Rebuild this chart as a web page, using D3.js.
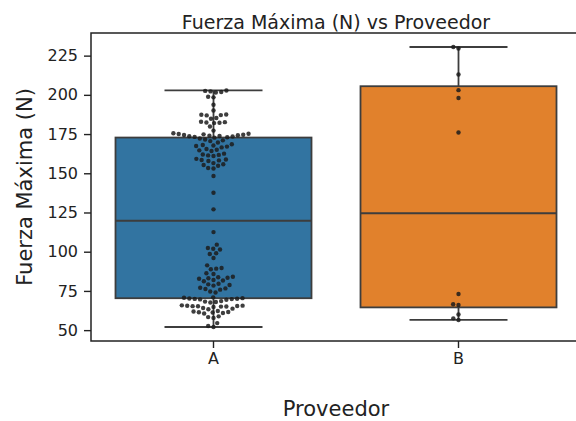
<!DOCTYPE html>
<html>
<head>
<meta charset="utf-8">
<script src="https://cdn.jsdelivr.net/npm/d3@7"></script>
<style>
  html, body { margin: 0; padding: 0; background: #ffffff; }
  svg { display: block; font-family: "DejaVu Sans", sans-serif; }
</style>
</head>
<body>
<svg id="chart" width="576" height="421"></svg>
<script>
// Supplier categories and the measured maximum force (N) per sample
const categories = ["A", "B"];

const fuerzaA = [
  52.0, 52.6, 54.5, 57.8, 58.3, 58.8, 60.6, 60.9, 61.2, 61.4, 61.6, 61.9, 62.2,
  63.3, 63.7, 64.1,
  64.8, 65.0, 65.1, 65.2, 65.3, 65.4, 65.5, 65.6, 65.8,
  67.6, 67.9, 68.2, 68.5,
  69.4, 69.6, 69.8, 69.9, 70.0, 70.2, 70.4, 70.6, 70.9,
  74.0, 74.6, 75.8, 76.2, 76.6, 77.0, 78.4, 78.8, 79.2, 79.6,
  81.2, 81.6, 82.0, 82.8, 83.1, 83.4, 83.7, 84.0, 85.8, 86.3,
  88.8, 89.2, 89.6, 91.3, 96.0, 98.5, 99.0, 101.4, 101.9, 102.4, 104.5, 112.5,
  127.0, 137.6, 148.3, 153.0, 153.4, 154.8, 155.3, 155.8, 156.5,
  157.8, 158.2, 158.5, 158.8, 159.2, 161.0, 161.4, 161.7, 162.0, 162.5,
  164.2, 164.6, 165.0, 165.5, 166.5, 167.0, 167.4, 167.7, 168.0, 168.5, 169.6,
  170.5, 171.0, 171.5, 172.2, 172.7, 173.0,
  173.2, 173.4, 173.6, 173.8, 174.0, 174.2, 174.4, 174.6, 174.8, 175.0, 175.2, 175.5,
  177.2, 179.8, 182.0, 182.2, 182.4, 182.6, 182.8, 184.8, 185.2,
  186.9, 187.1, 187.3, 187.5, 190.0, 193.7, 198.4, 198.8,
  201.5, 201.8, 202.2, 202.5, 202.8
];

const fuerzaB = [56.5, 57.5, 60.0, 66.0, 66.5, 73.0, 176.0, 198.0, 203.0, 213.0, 229.5, 230.5];

const yTicks = [50, 75, 100, 125, 150, 175, 200, 225];

const groups = [
  { key: categories[0], values: fuerzaA, fill: "#3274a1" },
  { key: categories[1], values: fuerzaB, fill: "#e1812c" }
];

const svg = d3.select("#chart");
const plot = { left: 91, right: 581, top: 33, bottom: 341 };
const lineColor = "#3d3d3d";
const inkColor = "#222222";

// y domain: data extent with 5% padding on each side
const all = fuerzaA.concat(fuerzaB);
const [lo, hi] = d3.extent(all);
const pad = (hi - lo) * 0.05;
const y = d3.scaleLinear().domain([lo - pad, hi + pad]).range([plot.bottom, plot.top]);

const x = d3.scaleBand().domain(categories).range([plot.left, plot.right]).padding(0);
const boxW = x.bandwidth() * 0.8;

function stats(vals) {
  const s = vals.slice().sort(d3.ascending);
  const q1 = d3.quantileSorted(s, 0.25);
  const med = d3.quantileSorted(s, 0.5);
  const q3 = d3.quantileSorted(s, 0.75);
  const iqr = q3 - q1;
  const wLo = d3.min(s.filter(v => v >= q1 - 1.5 * iqr));
  const wHi = d3.max(s.filter(v => v <= q3 + 1.5 * iqr));
  return { q1, med, q3, wLo, wHi };
}

// Beeswarm placement in pixel space: each point takes the position
// closest to the centre line that does not overlap any placed point.
function swarm(vals, cx, d) {
  const pts = vals.map(v => ({ v, y: y(v), x: cx })).sort((a, b) => b.y - a.y);
  const placed = [];
  for (const p of pts) {
    const nb = placed.filter(q => Math.abs(q.y - p.y) < d);
    const lefts = [], rights = [];
    for (const q of nb) {
      const dx = Math.sqrt(d * d - (q.y - p.y) ** 2);
      lefts.push(q.x - dx);
      rights.push(q.x + dx);
    }
    const cands = [cx].concat(lefts, rights)
      .map((c, i) => ({ c, i, off: Math.abs(c - cx) }))
      .sort((a, b) => (a.off - b.off) || (a.i - b.i));
    let chosen = cx;
    for (const cand of cands) {
      const ok = nb.every(q => (cand.c - q.x) ** 2 + (p.y - q.y) ** 2 >= d * d - 1e-6);
      if (ok) { chosen = cand.c; break; }
    }
    p.x = chosen;
    placed.push(p);
  }
  return placed;
}

const gBoxes = svg.append("g");
groups.forEach(g => {
  const st = stats(g.values);
  const cx = x(g.key) + x.bandwidth() / 2;
  const grp = gBoxes.append("g");
  // whiskers
  grp.append("line").attr("x1", cx).attr("x2", cx).attr("y1", y(st.q3)).attr("y2", y(st.wHi))
    .attr("stroke", lineColor).attr("stroke-width", 1.8);
  grp.append("line").attr("x1", cx).attr("x2", cx).attr("y1", y(st.q1)).attr("y2", y(st.wLo))
    .attr("stroke", lineColor).attr("stroke-width", 1.8);
  // caps
  [st.wHi, st.wLo].forEach(v => {
    grp.append("line").attr("x1", cx - boxW / 4).attr("x2", cx + boxW / 4)
      .attr("y1", y(v)).attr("y2", y(v))
      .attr("stroke", lineColor).attr("stroke-width", 1.8);
  });
  // box
  grp.append("rect").attr("x", cx - boxW / 2).attr("width", boxW)
    .attr("y", y(st.q3)).attr("height", y(st.q1) - y(st.q3))
    .attr("fill", g.fill).attr("stroke", lineColor).attr("stroke-width", 1.8);
  // median
  grp.append("line").attr("x1", cx - boxW / 2).attr("x2", cx + boxW / 2)
    .attr("y1", y(st.med)).attr("y2", y(st.med))
    .attr("stroke", lineColor).attr("stroke-width", 1.8);
});

// swarm points
const gPts = svg.append("g");
groups.forEach(g => {
  const cx = x(g.key) + x.bandwidth() / 2;
  const pts = swarm(g.values, cx, 5.4);
  gPts.selectAll(null).data(pts).enter().append("circle")
    .attr("cx", d => d.x).attr("cy", d => d.y).attr("r", 2.2)
    .attr("fill", "#1c1c1c").attr("fill-opacity", 0.85);
});

// axes
const yAxis = d3.axisLeft(y).tickValues(yTicks).tickSize(7).tickPadding(6).tickFormat(d3.format("d"));
const xAxis = d3.axisBottom(x).tickSize(7).tickPadding(5);

const gy = svg.append("g").attr("transform", `translate(${plot.left},0)`).call(yAxis);
const gx = svg.append("g").attr("transform", `translate(0,${plot.bottom})`).call(xAxis);
[gy, gx].forEach(g => {
  g.select(".domain").remove();
  g.selectAll(".tick line").attr("stroke", inkColor).attr("stroke-width", 1.4);
  g.selectAll(".tick text").attr("fill", inkColor).style("font-size", "16px")
    .style("font-family", "'DejaVu Sans', sans-serif");
});

// frame
svg.append("rect").attr("x", plot.left).attr("y", plot.top)
  .attr("width", plot.right - plot.left).attr("height", plot.bottom - plot.top)
  .attr("fill", "none").attr("stroke", inkColor).attr("stroke-width", 1.5);

// titles
const midX = (plot.left + plot.right) / 2;
svg.append("text").attr("x", midX).attr("y", 29).attr("text-anchor", "middle")
  .attr("fill", inkColor).style("font-size", "19px").text("Fuerza Máxima (N) vs Proveedor");
svg.append("text").attr("x", midX).attr("y", 416).attr("text-anchor", "middle")
  .attr("fill", inkColor).style("font-size", "21px").text("Proveedor");
svg.append("text").attr("transform", `translate(32,${(plot.top + plot.bottom) / 2}) rotate(-90)`)
  .attr("text-anchor", "middle").attr("fill", inkColor).style("font-size", "21px")
  .text("Fuerza Máxima (N)");
</script>
</body>
</html>
